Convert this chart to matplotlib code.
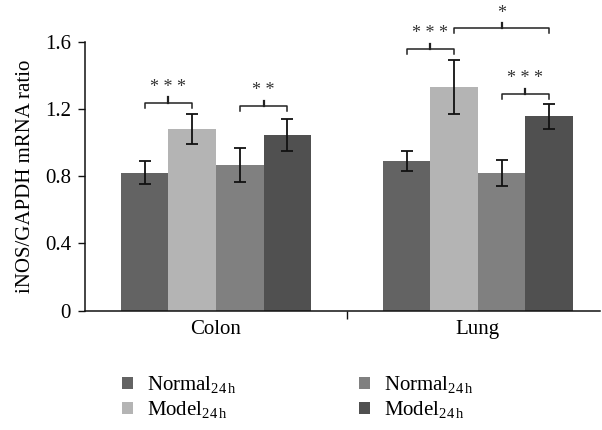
import matplotlib
matplotlib.use("Agg")
import matplotlib.pyplot as plt
import numpy as np
from matplotlib.patches import Patch

plt.rcParams['font.family'] = ['Liberation Serif', 'DejaVu Serif']
plt.rcParams['mathtext.fontset'] = 'custom'
plt.rcParams['mathtext.rm'] = 'Liberation Serif'

categories = ["Colon", "Lung"]
series_labels = [r"Normal$_{\mathregular{24\,h}}$", r"Model$_{\mathregular{24\,h}}$",
                 r"Normal$_{\mathregular{24\,h}}$", r"Model$_{\mathregular{24\,h}}$"]
values = [
    [0.82, 0.89],   # Normal 1
    [1.08, 1.33],   # Model 1
    [0.865, 0.82],  # Normal 2
    [1.045, 1.155], # Model 2
]
errors = [
    [0.07, 0.057],
    [0.09, 0.163],
    [0.10, 0.077],
    [0.094, 0.073],
]
colors = ["#636363", "#b4b4b4", "#808080", "#505050"]
yticks = [0, 0.4, 0.8, 1.2, 1.6]
ytick_labels = ["0", "0.4", "0.8", "1.2", "1.6"]
# significance brackets: (category index, bar a, bar b, level, label)
brackets = [
    (0, 0, 1, 1.238, "***"),
    (0, 2, 3, 1.217, "**"),
    (1, 0, 1, 1.558, "***"),
    (1, 1, 3, 1.68, "*"),
    (1, 2, 3, 1.29, "***"),
]

FS = 15
W, H = 602, 430
fig = plt.figure(figsize=(W / 100, H / 100), dpi=100)
ax = fig.add_axes([85 / W, 1 - 310.5 / H, (600 - 85) / W, 268.8 / H])

bw = 0.1815
x = np.arange(len(categories))
offsets = (np.arange(4) - 1.5) * bw
for i in range(4):
    ax.bar(x + offsets[i], values[i], width=bw, color=colors[i], edgecolor='none',
           yerr=errors[i], error_kw=dict(ecolor='#111111', elinewidth=1.3, capsize=4, capthick=1.3),
           zorder=2)

ax.set_xlim(-0.5, 1.466)
ax.set_ylim(0, 1.6)
ax.set_yticks(yticks)
ax.set_yticklabels(ytick_labels, fontsize=FS)
ax.set_xticks([0.5])
ax.set_xticklabels([""])
ax.tick_params(axis='x', direction='out', length=6, width=1, color='#111111')
ax.tick_params(axis='y', direction='out', length=5, width=1, color='#111111', pad=5)
for i, c in enumerate(categories):
    ax.text(x[i], -0.055, c, ha='center', va='top', fontsize=FS, transform=ax.transData)
ax.set_ylabel("iNOS/GAPDH mRNA ratio", fontsize=FS, labelpad=7)
for s in ['top', 'right']:
    ax.spines[s].set_visible(False)
for s in ['left', 'bottom']:
    ax.spines[s].set_linewidth(1.1)
    ax.spines[s].set_color('#111111')

dh = 0.03
for ci, a, b, lvl, lab in brackets:
    xa = x[ci] + offsets[a]
    xb = x[ci] + offsets[b]
    xm = (xa + xb) / 2
    ax.plot([xa, xa, xb, xb], [lvl - dh, lvl, lvl, lvl - dh], color='#222222', lw=1.1,
            clip_on=False)
    ax.plot([xm, xm], [lvl, lvl + dh], color='#222222', lw=1.6, clip_on=False)
    ax.text(xm, lvl + dh + 0.01, " ".join(lab), ha='center',
            va='bottom', fontsize=13, color='#333333', clip_on=False)

handles = [Patch(facecolor=colors[i], edgecolor='none') for i in range(4)]
leg_kw = dict(loc='upper left', frameon=False, fontsize=FS, borderpad=0,
              handlelength=0.5, handleheight=0.5, handletextpad=0.7, labelspacing=0.15)
fig.legend(handles[:2], series_labels[:2], bbox_to_anchor=(112 / W, 1 - 364 / H), **leg_kw)
fig.legend(handles[2:], series_labels[2:], bbox_to_anchor=(349 / W, 1 - 364 / H), **leg_kw)

fig.savefig("out.png", dpi=100)
